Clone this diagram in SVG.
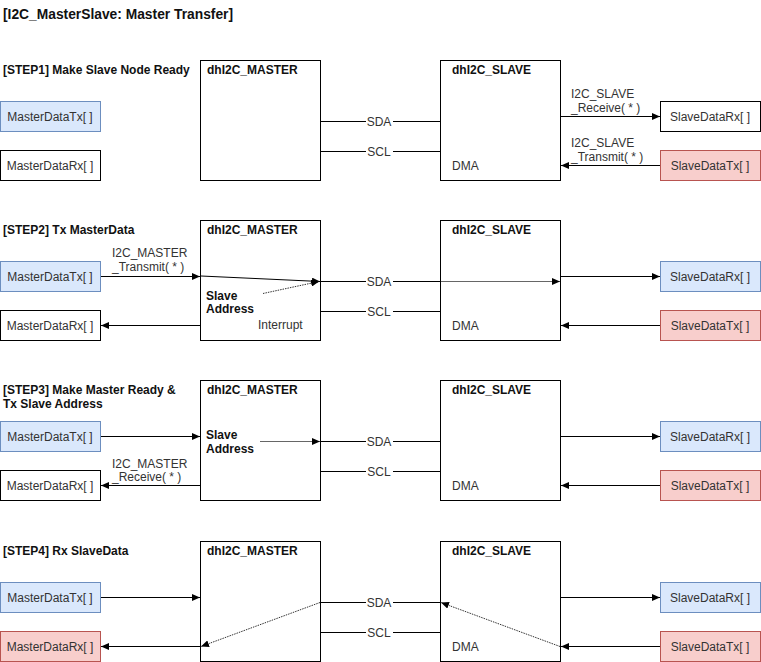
<svg xmlns="http://www.w3.org/2000/svg" width="761" height="662" viewBox="0 0 761 662">
<style>
.t{font-family:"Liberation Sans",Arial,sans-serif;font-size:12px;fill:#333}
.b{font-weight:bold;fill:#111}
.c{text-anchor:middle}
.box{fill:#fff;stroke:#000;stroke-width:1}
.blue{fill:#dae8fc;stroke:#6c8ebf;stroke-width:1}
.red{fill:#f8cecc;stroke:#b85450;stroke-width:1}
.e{fill:none;stroke:#000;stroke-width:1}
.g{stroke:#666}
.d{stroke:#333;stroke-dasharray:1.5 1}
.bg{fill:#fff}
</style>
<defs>
<marker id="ah" viewBox="0 0 8 7" refX="8" refY="3.5" markerWidth="8" markerHeight="7" markerUnits="userSpaceOnUse" orient="auto">
<path d="M0,0 L8,3.5 L0,7 Z" fill="#000"/>
</marker>
</defs>
<rect width="761" height="662" fill="#fff"/>
<text class="t b" x="3" y="19" style="font-size:13.8px">[I2C_MasterSlave: Master Transfer]</text>

<g id="titles">
<text class="t b" x="3" y="74">[STEP1] Make Slave Node Ready</text>
<text class="t b" x="3" y="234">[STEP2] Tx MasterData</text>
<text class="t b" x="3" y="394">[STEP3] Make Master Ready &amp;</text>
<text class="t b" x="3" y="408">Tx Slave Address</text>
<text class="t b" x="3" y="555">[STEP4] Rx SlaveData</text>
</g>

<!-- STEP 1 -->
<g id="s1-master"><rect class="box" x="200.5" y="60.5" width="120" height="120"/><text class="t b" x="207" y="74">dhI2C_MASTER</text></g>
<g id="s1-slave"><rect class="box" x="440.5" y="60.5" width="120" height="120"/><text class="t b" x="452" y="74">dhI2C_SLAVE</text><text class="t" x="452" y="170">DMA</text></g>
<g id="s1-mtx"><rect class="blue" x="0.5" y="101.5" width="100" height="30"/><text class="t c" x="50" y="120.5">MasterDataTx[ ]</text></g>
<g id="s1-mrx"><rect class="box" x="0.5" y="150.5" width="100" height="30"/><text class="t c" x="50" y="169.5">MasterDataRx[ ]</text></g>
<g id="s1-srx"><rect class="box" x="660.5" y="101.5" width="100" height="30"/><text class="t c" x="710" y="120.5">SlaveDataRx[ ]</text></g>
<g id="s1-stx"><rect class="red" x="660.5" y="150.5" width="100" height="30"/><text class="t c" x="710" y="169.5">SlaveDataTx[ ]</text></g>

<!-- STEP 2 -->
<g id="s2-master"><rect class="box" x="200.5" y="220.5" width="120" height="120"/><text class="t b" x="207" y="234">dhI2C_MASTER</text><text class="t b" x="206" y="299.5">Slave</text><text class="t b" x="206" y="313">Address</text><text class="t" x="258" y="329">Interrupt</text></g>
<g id="s2-slave"><rect class="box" x="440.5" y="220.5" width="120" height="120"/><text class="t b" x="452" y="234">dhI2C_SLAVE</text><text class="t" x="452" y="330">DMA</text></g>
<g id="s2-mtx"><rect class="blue" x="0.5" y="261.5" width="100" height="30"/><text class="t c" x="50" y="280.5">MasterDataTx[ ]</text></g>
<g id="s2-mrx"><rect class="box" x="0.5" y="310.5" width="100" height="30"/><text class="t c" x="50" y="329.5">MasterDataRx[ ]</text></g>
<g id="s2-srx"><rect class="blue" x="660.5" y="261.5" width="100" height="30"/><text class="t c" x="710" y="280.5">SlaveDataRx[ ]</text></g>
<g id="s2-stx"><rect class="red" x="660.5" y="310.5" width="100" height="30"/><text class="t c" x="710" y="329.5">SlaveDataTx[ ]</text></g>

<!-- STEP 3 -->
<g id="s3-master"><rect class="box" x="200.5" y="380.5" width="120" height="120"/><text class="t b" x="207" y="394">dhI2C_MASTER</text><text class="t b" x="206" y="439">Slave</text><text class="t b" x="206" y="453">Address</text></g>
<g id="s3-slave"><rect class="box" x="440.5" y="380.5" width="120" height="120"/><text class="t b" x="452" y="394">dhI2C_SLAVE</text><text class="t" x="452" y="490">DMA</text></g>
<g id="s3-mtx"><rect class="blue" x="0.5" y="421.5" width="100" height="30"/><text class="t c" x="50" y="440.5">MasterDataTx[ ]</text></g>
<g id="s3-mrx"><rect class="box" x="0.5" y="470.5" width="100" height="30"/><text class="t c" x="50" y="489.5">MasterDataRx[ ]</text></g>
<g id="s3-srx"><rect class="blue" x="660.5" y="421.5" width="100" height="30"/><text class="t c" x="710" y="440.5">SlaveDataRx[ ]</text></g>
<g id="s3-stx"><rect class="red" x="660.5" y="470.5" width="100" height="30"/><text class="t c" x="710" y="489.5">SlaveDataTx[ ]</text></g>

<!-- STEP 4 -->
<g id="s4-master"><rect class="box" x="200.5" y="541.5" width="120" height="120"/><text class="t b" x="207" y="555">dhI2C_MASTER</text></g>
<g id="s4-slave"><rect class="box" x="440.5" y="541.5" width="120" height="120"/><text class="t b" x="452" y="555">dhI2C_SLAVE</text><text class="t" x="452" y="651">DMA</text></g>
<g id="s4-mtx"><rect class="blue" x="0.5" y="582.5" width="100" height="30"/><text class="t c" x="50" y="601.5">MasterDataTx[ ]</text></g>
<g id="s4-mrx"><rect class="red" x="0.5" y="631.5" width="100" height="30"/><text class="t c" x="50" y="650.5">MasterDataRx[ ]</text></g>
<g id="s4-srx"><rect class="blue" x="660.5" y="582.5" width="100" height="30"/><text class="t c" x="710" y="601.5">SlaveDataRx[ ]</text></g>
<g id="s4-stx"><rect class="red" x="660.5" y="631.5" width="100" height="30"/><text class="t c" x="710" y="650.5">SlaveDataTx[ ]</text></g>

<g id="connectors">
<!-- SDA / SCL buses -->
<path class="e" d="M321,121.5H440 M321,151.5H440 M321,281.5H440 M321,311.5H440 M321,441.5H440 M321,471.5H440 M321,602.5H440 M321,632.5H440"/>
<!-- step1 -->
<path class="e" d="M561,116.5H660" marker-end="url(#ah)"/>
<path class="e" d="M660,165.5H561" marker-end="url(#ah)"/>
<!-- step2 -->
<path class="e" d="M101,276.5H200" marker-end="url(#ah)"/>
<path class="e" d="M201,276L320,281.5" marker-end="url(#ah)"/>
<path class="e d" d="M263,293.5L319,281.5" marker-end="url(#ah)"/>
<path class="e" d="M200,325.5H101" marker-end="url(#ah)"/>
<path class="e g" d="M441,281.5H560" marker-end="url(#ah)"/>
<path class="e" d="M561,276.5H660" marker-end="url(#ah)"/>
<path class="e" d="M660,325.5H561" marker-end="url(#ah)"/>
<!-- step3 -->
<path class="e" d="M101,436.5H200" marker-end="url(#ah)"/>
<path class="e g" d="M260,441.5H320" marker-end="url(#ah)"/>
<path class="e" d="M200,485.5H101" marker-end="url(#ah)"/>
<path class="e" d="M561,436.5H660" marker-end="url(#ah)"/>
<path class="e" d="M660,485.5H561" marker-end="url(#ah)"/>
<!-- step4 -->
<path class="e" d="M101,597.5H200" marker-end="url(#ah)"/>
<path class="e d" d="M320,602.5L201,646.5" marker-end="url(#ah)"/>
<path class="e" d="M200,646.5H101" marker-end="url(#ah)"/>
<path class="e" d="M561,597.5H660" marker-end="url(#ah)"/>
<path class="e" d="M660,646.5H561" marker-end="url(#ah)"/>
<path class="e d" d="M560,646.5L441,602.5" marker-end="url(#ah)"/>
<!-- labels -->
<g>
<rect class="bg" x="366" y="115" width="27" height="13"/><text class="t c" x="379" y="126">SDA</text>
<rect class="bg" x="366" y="145" width="27" height="13"/><text class="t c" x="379" y="156">SCL</text>
<rect class="bg" x="366" y="275" width="27" height="13"/><text class="t c" x="379" y="286">SDA</text>
<rect class="bg" x="366" y="305" width="27" height="13"/><text class="t c" x="379" y="316">SCL</text>
<rect class="bg" x="366" y="435" width="27" height="13"/><text class="t c" x="379" y="446">SDA</text>
<rect class="bg" x="366" y="465" width="27" height="13"/><text class="t c" x="379" y="476">SCL</text>
<rect class="bg" x="366" y="596" width="27" height="13"/><text class="t c" x="379" y="607">SDA</text>
<rect class="bg" x="366" y="626" width="27" height="13"/><text class="t c" x="379" y="637">SCL</text>
</g>
<text class="t" x="571" y="98">I2C_SLAVE</text>
<text class="t" x="571" y="111.5">_Receive( * )</text>
<text class="t" x="571" y="147">I2C_SLAVE</text>
<text class="t" x="571" y="160.5">_Transmit( * )</text>
<text class="t" x="112" y="256.5">I2C_MASTER</text>
<text class="t" x="112" y="271">_Transmit( * )</text>
<text class="t" x="112" y="467.5">I2C_MASTER</text>
<text class="t" x="112" y="481">_Receive( * )</text>
</g>
</svg>
